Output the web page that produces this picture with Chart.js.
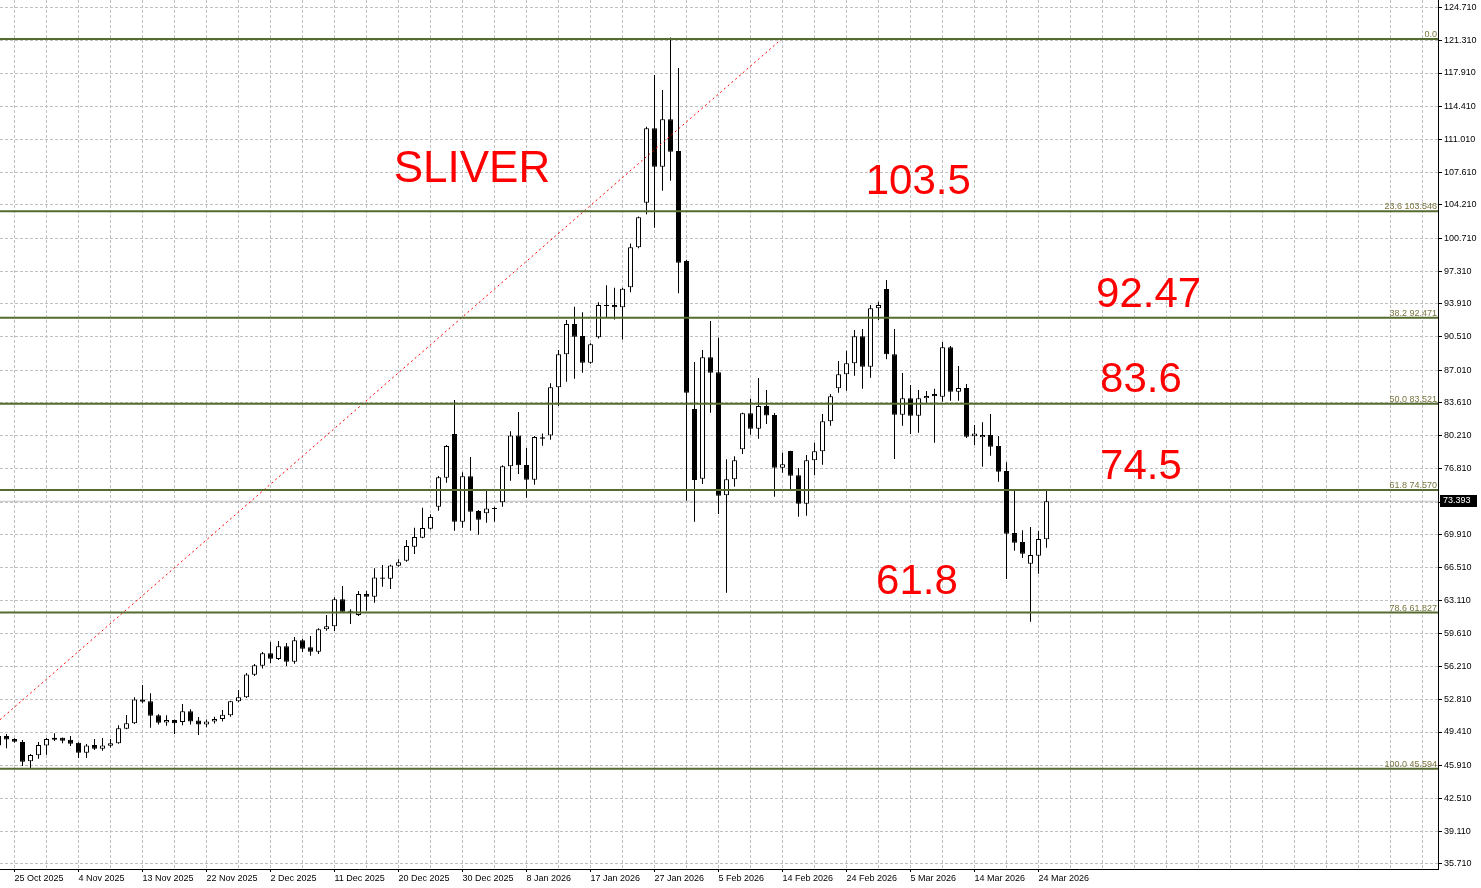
<!DOCTYPE html>
<html>
<head>
<meta charset="utf-8">
<title>SLIVER daily</title>
<script src="https://cdn.jsdelivr.net/npm/chart.js@4.4.1/dist/chart.umd.min.js"></script>
<style>
  html, body { margin: 0; padding: 0; background: #fff; }
  #chart { display: block; }
</style>
</head>
<body>
<canvas id="chart" width="1481" height="888"></canvas>
<script>
// Daily candles, bar index -1 .. 130 (index 1 = 25 Oct 2025)
const firstBar = -1;
const opens = [48.00, 48.99, 48.68, 48.37, 46.36, 46.99, 48.02, 48.81, 48.81, 48.60, 48.29, 47.26, 48.06, 47.67, 47.98, 48.23, 49.75, 50.31, 52.80, 52.60, 51.14, 50.41, 50.65, 50.45, 51.56, 50.60, 50.20, 50.50, 50.75, 51.15, 52.60, 53.01, 55.36, 56.30, 57.59, 57.00, 58.32, 56.72, 58.94, 58.21, 57.75, 60.08, 60.39, 63.20, 62.02, 61.57, 63.75, 63.47, 65.48, 65.34, 66.69, 67.21, 68.67, 69.61, 70.54, 72.83, 75.85, 80.38, 71.27, 75.99, 72.38, 72.14, 72.60, 73.28, 77.03, 80.24, 77.16, 75.63, 80.04, 80.24, 85.24, 88.67, 91.82, 90.57, 87.79, 90.43, 93.70, 93.79, 93.55, 95.63, 99.79, 104.43, 112.16, 108.17, 113.10, 109.80, 98.37, 82.98, 75.74, 88.36, 86.80, 74.01, 75.67, 78.79, 82.53, 80.94, 83.29, 82.36, 76.88, 78.62, 76.09, 73.14, 77.65, 78.58, 81.70, 85.13, 86.59, 87.73, 90.54, 87.38, 93.45, 95.46, 88.67, 82.39, 84.09, 82.28, 84.09, 84.54, 84.26, 89.40, 84.78, 85.16, 80.14, 80.04, 80.28, 79.13, 76.54, 70.09, 69.16, 66.90, 67.73, 69.44];
const highs = [49.10, 49.19, 48.76, 48.58, 47.12, 48.37, 48.78, 49.27, 48.85, 48.99, 48.35, 48.16, 48.68, 48.78, 48.68, 50.10, 51.17, 53.01, 54.29, 53.43, 51.25, 51.14, 50.70, 52.32, 51.77, 50.96, 50.70, 51.00, 51.69, 52.65, 53.77, 55.54, 56.47, 57.72, 58.76, 58.86, 58.66, 59.28, 59.11, 59.38, 60.19, 61.57, 63.41, 64.58, 62.16, 64.06, 64.06, 66.42, 66.76, 66.80, 67.36, 69.37, 70.64, 72.72, 72.04, 76.02, 79.24, 83.92, 76.40, 78.00, 72.48, 74.49, 72.83, 77.13, 80.66, 82.67, 78.93, 80.18, 80.45, 85.65, 89.11, 92.23, 93.62, 93.04, 89.81, 94.07, 95.86, 95.59, 95.59, 100.20, 103.00, 112.33, 117.70, 116.14, 121.60, 118.43, 98.50, 87.87, 89.11, 92.13, 90.39, 77.75, 78.07, 82.60, 84.05, 86.20, 84.96, 82.57, 78.44, 78.65, 76.85, 78.20, 79.48, 82.46, 84.54, 87.97, 89.04, 91.19, 91.30, 93.79, 94.14, 96.39, 91.30, 86.72, 85.48, 84.96, 84.85, 85.09, 89.95, 89.53, 87.45, 85.58, 81.32, 81.60, 82.46, 80.18, 77.44, 74.45, 70.37, 70.72, 70.30, 74.49];
const lows = [47.90, 47.71, 48.30, 45.87, 45.594, 46.63, 47.05, 48.47, 48.23, 47.95, 46.70, 46.70, 47.53, 47.46, 47.81, 48.20, 49.70, 50.25, 52.39, 49.85, 50.20, 50.06, 49.19, 50.10, 50.20, 49.10, 49.90, 50.30, 50.50, 51.00, 52.49, 52.95, 55.23, 56.00, 56.55, 56.89, 56.27, 56.51, 57.72, 57.34, 57.51, 59.93, 59.90, 61.81, 60.63, 61.46, 62.02, 62.85, 64.51, 64.27, 66.60, 67.11, 67.91, 69.55, 70.47, 72.41, 75.32, 70.33, 70.64, 70.33, 69.92, 71.16, 71.27, 72.83, 75.53, 76.22, 73.76, 75.11, 79.17, 79.79, 83.29, 85.82, 86.13, 86.76, 87.69, 90.30, 92.51, 92.30, 90.22, 95.11, 99.70, 103.22, 101.83, 105.67, 106.71, 95.01, 73.45, 71.27, 75.19, 82.60, 72.07, 63.89, 74.91, 78.30, 80.31, 79.89, 81.42, 73.86, 76.36, 74.63, 71.79, 71.89, 76.12, 77.19, 81.25, 84.68, 84.88, 86.44, 85.09, 86.24, 92.23, 88.15, 77.78, 81.25, 80.38, 80.52, 83.64, 79.48, 83.74, 83.84, 83.84, 79.97, 79.24, 76.99, 78.13, 75.43, 65.31, 68.25, 67.49, 60.87, 65.86, 68.57];
const closes = [49.00, 48.64, 48.40, 46.32, 47.02, 48.06, 48.68, 48.60, 48.50, 48.19, 47.26, 48.02, 47.67, 48.02, 48.23, 49.79, 50.31, 52.80, 52.56, 51.10, 50.37, 50.65, 50.31, 51.56, 50.50, 50.20, 50.50, 50.75, 51.20, 52.60, 53.01, 55.40, 56.34, 57.59, 57.03, 58.32, 56.72, 58.94, 58.07, 57.75, 60.08, 60.39, 63.20, 61.91, 61.91, 63.75, 63.47, 65.48, 65.34, 66.73, 67.05, 68.74, 69.68, 70.61, 71.75, 75.88, 79.13, 71.27, 75.99, 72.31, 71.47, 72.65, 72.65, 77.03, 80.24, 77.13, 75.63, 80.07, 79.90, 85.24, 88.67, 91.83, 90.50, 87.79, 89.71, 93.79, 93.80, 93.55, 95.48, 99.79, 102.91, 112.16, 108.17, 113.10, 109.73, 98.19, 84.68, 75.60, 88.36, 86.76, 73.97, 75.67, 77.65, 82.53, 80.94, 83.29, 82.32, 76.88, 77.23, 76.05, 73.14, 77.65, 78.58, 81.70, 84.30, 86.59, 87.73, 90.54, 87.38, 93.45, 93.79, 88.67, 82.39, 84.09, 82.28, 84.09, 84.33, 84.30, 89.40, 84.78, 85.16, 80.10, 80.45, 80.28, 79.06, 76.46, 70.02, 69.08, 67.94, 67.81, 69.48, 73.393];

const dateLabels = ['25 Oct 2025', '4 Nov 2025', '13 Nov 2025', '22 Nov 2025', '2 Dec 2025', '11 Dec 2025', '20 Dec 2025', '30 Dec 2025', '8 Jan 2026', '17 Jan 2026', '27 Jan 2026', '5 Feb 2026', '14 Feb 2026', '24 Feb 2026', '5 Mar 2026', '14 Mar 2026', '24 Mar 2026'];
const priceTicks = [35.71, 39.11, 42.51, 45.91, 49.41, 52.81, 56.21, 59.61, 63.11, 66.51, 69.91, 73.31, 76.81, 80.21, 83.61, 87.01, 90.51, 93.91, 97.31, 100.71, 104.21, 107.61, 111.01, 114.41, 117.91, 121.31, 124.71];

// Fibonacci retracement 45.594 -> 121.444
const fibLevels = [121.444, 103.546, 92.471, 83.521, 74.570, 61.827, 45.594];
const fibText = ['0.0', '23.6 103.546', '38.2 92.471', '50.0 83.521', '61.8 74.570', '78.6 61.827', '100.0 45.594'];
const trendX = [-0.81, 96.9];
const trendY = [50.69, 121.444];
const lastPrice = 73.393;

const notes = ['SLIVER', '103.5', '92.47', '83.6', '74.5', '61.8'];
const noteBar = [48.4, 107.4, 136.2, 136.7, 136.7, 108.7];
const notePrice = [106.6, 105.3, 93.6, 84.7, 75.7, 63.8];

const X_MIN = -0.8125, X_MAX = 178.9375;
const Y_MIN = 35.17, Y_MAX = 125.498;

document.addEventListener('DOMContentLoaded', function() {
    drawChart();
});

function hLine(value) {
    return [{x: X_MIN, y: value}, {x: X_MAX, y: value}];
}

const annotations = {
    id: 'annotations',
    afterDatasetsDraw(chart) {
        const {ctx, chartArea} = chart;
        const x = chart.scales.x, y = chart.scales.y;
        ctx.save();
        // fib captions
        ctx.font = '9px "Liberation Sans"';
        ctx.fillStyle = '#7a7640';
        ctx.textAlign = 'right';
        ctx.textBaseline = 'alphabetic';
        fibLevels.forEach((level, i) => {
            ctx.fillText(fibText[i], chartArea.right - 1, Math.round(y.getPixelForValue(level)) - 2);
        });
        // red notes
        ctx.fillStyle = '#ff0000';
        ctx.textAlign = 'left';
        notes.forEach((text, i) => {
            ctx.font = (i === 0 ? 44 : 42) + 'px "Liberation Sans"';
            ctx.fillText(text, x.getPixelForValue(noteBar[i]), y.getPixelForValue(notePrice[i]));
        });
        ctx.restore();
    },
    afterDraw(chart) {
        // last price tag on the axis
        const {ctx, chartArea} = chart;
        const py = Math.round(chart.scales.y.getPixelForValue(lastPrice));
        ctx.save();
        ctx.fillStyle = '#000';
        ctx.fillRect(chartArea.right + 2, py - 6, 37, 12);
        ctx.fillStyle = '#fff';
        ctx.font = '9px "Liberation Sans"';
        ctx.textAlign = 'left';
        ctx.textBaseline = 'middle';
        ctx.fillText(lastPrice.toFixed(3), chartArea.right + 5, py);
        ctx.restore();
    }
};

function drawChart() {
    const bars = opens.map((o, i) => firstBar + i);
    const gridTicks = [];
    for (let k = 1; k <= 177; k += 4) gridTicks.push(k);

    const datasets = [];
    fibLevels.forEach(level => {
        datasets.push({
            type: 'line', data: hLine(level), borderColor: '#556B2F', borderWidth: 2,
            pointRadius: 0, order: 0
        });
    });
    datasets.push({
        type: 'line', data: trendX.map((v, i) => ({x: v, y: trendY[i]})),
        borderColor: '#ff0000', borderWidth: 1, borderDash: [2, 3], pointRadius: 0, order: 1
    });
    datasets.push({
        type: 'bar', data: bars.map((b, i) => ({x: b, y: [Math.min(opens[i], closes[i]), Math.max(opens[i], closes[i])]})),
        backgroundColor: bars.map((b, i) => closes[i] >= opens[i] ? '#ffffff' : '#000000'),
        borderColor: '#000', borderWidth: 1, borderSkipped: false,
        maxBarThickness: 5, grouped: false, minBarLength: 1, order: 2
    });
    datasets.push({
        type: 'bar', data: bars.map((b, i) => ({x: b, y: [lows[i], highs[i]]})),
        backgroundColor: '#000', borderWidth: 0, maxBarThickness: 1, grouped: false, order: 3
    });
    datasets.push({
        type: 'line', data: hLine(lastPrice), borderColor: '#c0c0c0', borderWidth: 1,
        pointRadius: 0, order: 4
    });

    const ctx = document.getElementById('chart').getContext('2d');
    new Chart(ctx, {
        type: 'bar',
        data: { datasets: datasets },
        options: {
            responsive: false,
            animation: false,
            devicePixelRatio: 1,
            events: [],
            layout: { padding: 0 },
            plugins: { legend: { display: false }, tooltip: { enabled: false } },
            scales: {
                x: {
                    type: 'linear', min: X_MIN, max: X_MAX, offset: false,
                    grid: {
                        offset: false, color: '#c0c0c0', lineWidth: 1, tickLength: 3,
                        tickColor: c => (c.tick && c.tick.label) ? '#000' : 'rgba(0,0,0,0)'
                    },
                    border: { display: true, color: '#000', width: 1, dash: [3, 2] },
                    ticks: {
                        autoSkip: false, maxRotation: 0, minRotation: 0, align: 'start', padding: 1,
                        color: '#000', font: { family: 'Liberation Sans', size: 9 },
                        callback: function(value) {
                            const j = (value - 1) / 8;
                            return Number.isInteger(j) && j < dateLabels.length ? dateLabels[j] : '';
                        }
                    },
                    afterBuildTicks: axis => { axis.ticks = gridTicks.map(v => ({value: v})); },
                    afterFit: axis => { axis.height = 19; axis.paddingLeft = 0; axis.paddingRight = 0; }
                },
                y: {
                    type: 'linear', position: 'right', min: Y_MIN, max: Y_MAX,
                    grid: { color: '#c0c0c0', lineWidth: 1, tickLength: 4, tickColor: '#000' },
                    border: { display: true, color: '#000', width: 1, dash: [3, 2] },
                    ticks: {
                        autoSkip: false, padding: 2, color: '#000',
                        font: { family: 'Liberation Sans', size: 9 },
                        callback: value => value.toFixed(3)
                    },
                    afterBuildTicks: axis => { axis.ticks = priceTicks.map(v => ({value: v})); },
                    afterFit: axis => { axis.width = 43; axis.paddingTop = 0; axis.paddingBottom = 0; }
                }
            }
        },
        plugins: [annotations]
    });
}
</script>
</body>
</html>
